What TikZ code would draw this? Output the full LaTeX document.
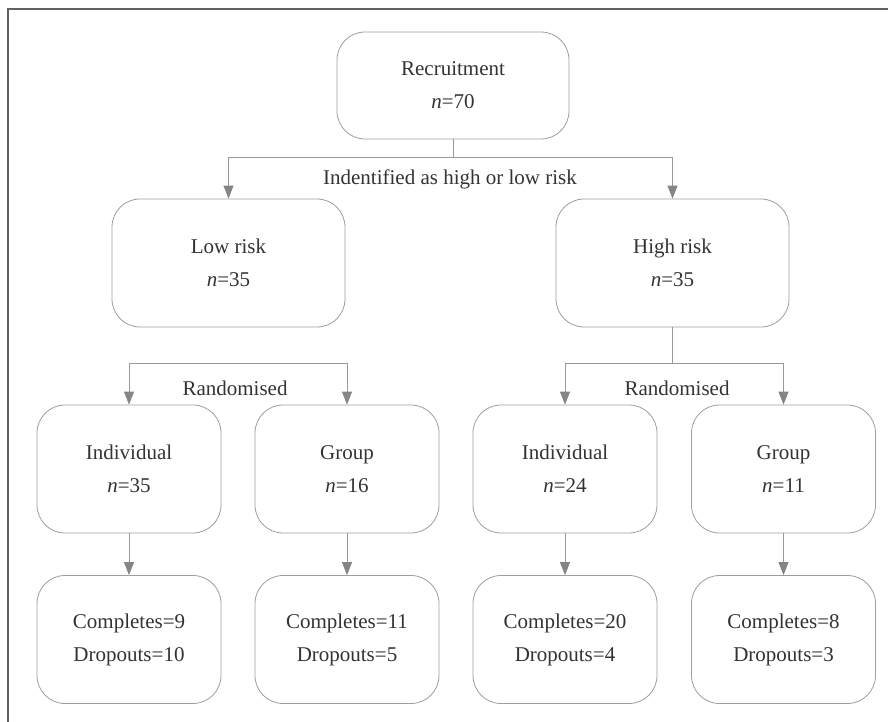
\documentclass[tikz,border=0pt]{standalone}
\usepackage{fontspec}
\setmainfont{Liberation Serif}
\usetikzlibrary{arrows.meta}
\begin{document}
\begin{tikzpicture}[x=1pt,y=-1pt,
  box/.style={draw=black!38,line width=0.8pt,rounded corners=28pt,fill=white,
    minimum width=184pt,minimum height=128pt,inner sep=0pt,align=center,
    text=black!80,font=\fontsize{21}{33}\selectfont},
  widebox/.style={box,minimum width=233pt},
  link/.style={draw=black!40,line width=0.9pt},
  arrow/.style={link,-{Triangle[length=13pt,width=10pt,fill=black!48,color=black!48]}},
  caption/.style={text=black!80,font=\fontsize{21}{24}\selectfont}]
  \useasboundingbox (0,0) rectangle (888,722);

 % frame
  \draw[black!62,line width=1.4pt] (8,722) -- (8,9) -- (888,9);

 % top levels
  \node[widebox,minimum width=232pt,minimum height=107pt] (rec) at (453,85.5) {Recruitment\\\textit{n}=70};
  \node[widebox] (low) at (228.5,263) {Low risk\\\textit{n}=35};
  \node[widebox] (high) at (672.5,263) {High risk\\\textit{n}=35};

  \draw[link] (rec.south) -- ++(0,18) coordinate (risk);
  \draw[arrow] (risk) -| (low.north);
  \draw[arrow] (risk) -| (high.north);
  \node[caption] (risklabel) at (450,179) {Indentified as high or low risk};

 % randomised groups
  \foreach \name/\x/\kind/\n in {ind1/129/Individual/35, grp1/347/Group/16, ind2/565/Individual/24, grp2/783.5/Group/11} {
    \node[box] (\name) at (\x,469) {\kind\\\textit{n}=\n};
  }

  \foreach \name/\x/\comp/\drop in {done1/129/9/10, done2/347/11/5, done3/565/20/4, done4/783.5/8/3} {
    \node[box] (\name) at (\x,639.5) {Completes=\comp\\Dropouts=\drop};
  }

  \coordinate (lowsplit) at (238,363);
  \draw[arrow] (lowsplit) -| (ind1.north);
  \draw[arrow] (lowsplit) -| (grp1.north);
  \node[caption] (rand1) at (235,388) {Randomised};

  \draw[link] (high.south) -- ++(0,36) coordinate (highsplit);
  \draw[arrow] (highsplit) -| (ind2.north);
  \draw[arrow] (highsplit) -| (grp2.north);
  \node[caption] (rand2) at (677,388) {Randomised};

  \foreach \a/\b in {ind1/done1, grp1/done2, ind2/done3, grp2/done4} {
    \draw[arrow] (\a) -- (\b);
  }
\end{tikzpicture}
\end{document}
